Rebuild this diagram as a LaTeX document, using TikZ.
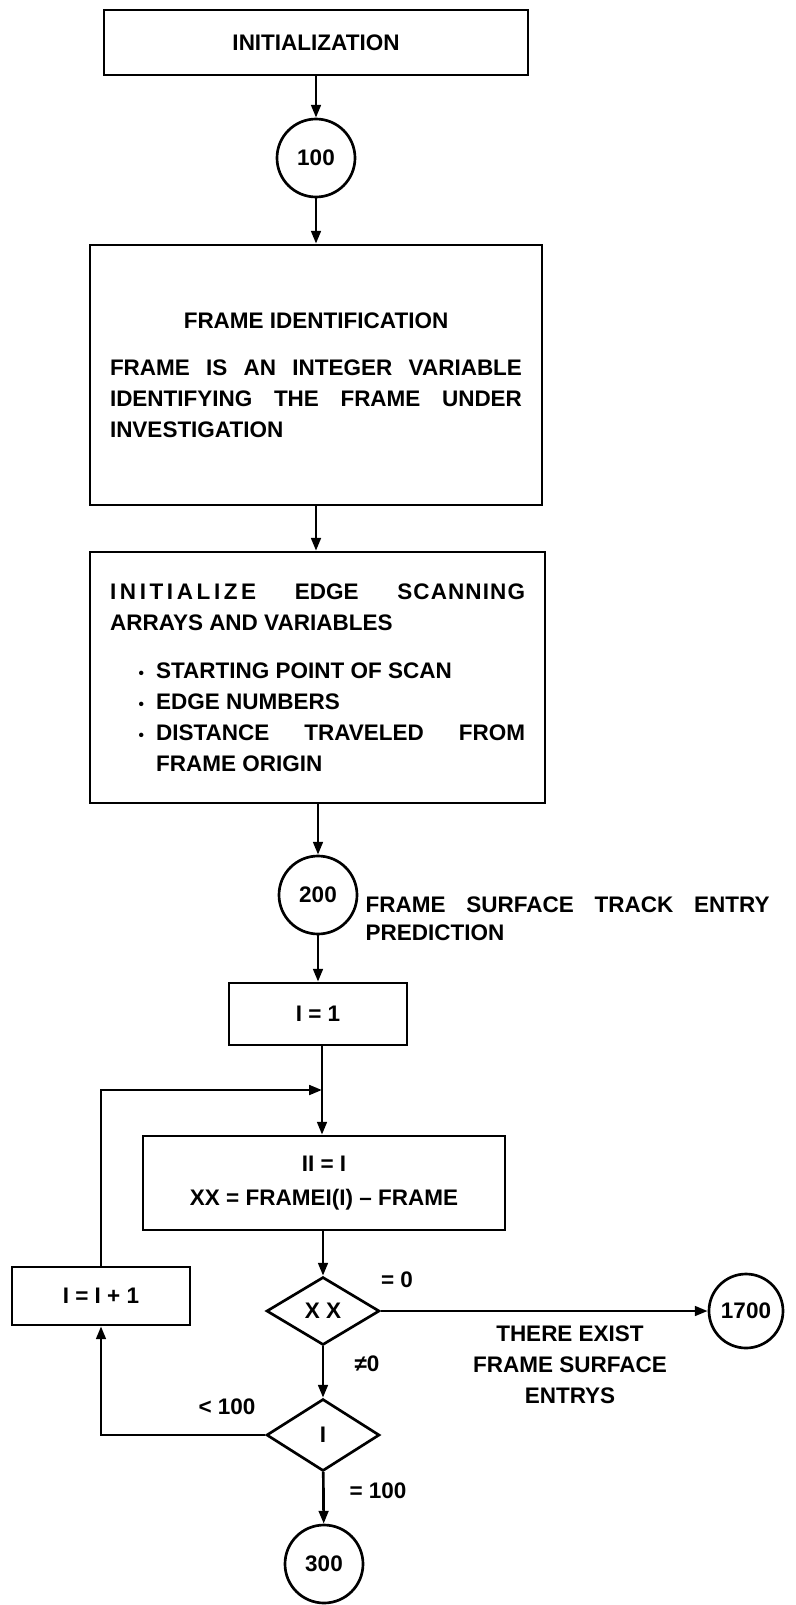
\documentclass[tikz,border=0pt]{standalone}
\usepackage{fontspec}
\setmainfont{Liberation Sans}
\usetikzlibrary{shapes.geometric,arrows.meta}

\newcommand{\chartfont}{\fontsize{16}{22}\selectfont\bfseries}
\newcommand{\dotitem}{\par\leavevmode\llap{{\fontsize{11}{11}\selectfont\textbullet}\hspace{0.3cm}}}
\newcommand{\spaced}[2]{{\addfontfeature{LetterSpace=#1}#2}}

\tikzset{
    procbox/.style={draw, line width=1.9pt, font=\chartfont, inner sep=0pt},
    connector/.style={draw, circle, line width=1.9pt, font=\chartfont, inner sep=0pt},
    decision/.style={draw, diamond, aspect=1.66, line width=1.9pt, font=\chartfont, inner sep=0pt},
    flowline/.style={line width=1.9pt, -{Triangle[length=0.32cm, width=0.24cm]}},
    note/.style={font=\chartfont, inner sep=0pt},
}

\begin{document}
\begin{tikzpicture}
    \useasboundingbox (0,0) rectangle (19.9,-40.125);

    % 初始化
    \node[procbox, minimum width=10.6cm, minimum height=1.625cm] (init) at (7.9,-1.06) {INITIALIZATION};

    % 100
    \node[connector, minimum size=1.95cm] (c100) at (7.9,-3.95) {100};
    \draw[flowline] (init) -- (c100);

    % 帧识别
    \node[procbox, minimum width=11.3cm, minimum height=6.5cm, text width=10.3cm, align=justify] (frameid) at (7.9,-9.375) {
        {\centering FRAME IDENTIFICATION\par}
        \vspace{0.4cm}
        FRAME IS AN INTEGER VARIABLE\linebreak
        IDENTIFYING THE FRAME UNDER\linebreak
        INVESTIGATION};
    \draw[flowline] (c100) -- (frameid);

    % 边扫描数组
    \node[procbox, minimum width=11.375cm, minimum height=6.275cm, text width=10.375cm, align=justify] (initarr) at (7.94,-16.94) {
        \spaced{16}{INITIALIZE} EDGE \spaced{5}{SCANNING}\linebreak
        ARRAYS AND VARIABLES\par
        \vspace{0.42cm}
        \leftskip=1.15cm
        \dotitem STARTING POINT OF SCAN
        \dotitem EDGE NUMBERS
        \dotitem DISTANCE TRAVELED FROM\linebreak
        FRAME ORIGIN\par};
    \draw[flowline] (frameid) -- (frameid |- initarr.north);

    % 200
    \node[connector, minimum size=1.95cm] (c200) at (7.95,-22.375) {200};
    \draw[flowline] (initarr.south -| c200) -- (c200);
    \node[note, font=\fontsize{16}{20}\selectfont\bfseries, text width=10.1cm, align=justify] (predict) at (14.19,-22.975) {FRAME SURFACE TRACK ENTRY\linebreak PREDICTION};

    % I = 1
    \node[procbox, minimum width=4.45cm, minimum height=1.55cm] (i1) at (7.95,-25.35) {I = 1};
    \draw[flowline] (c200) -- (i1);

    % 循环入口
    \coordinate (junc) at (8.05,-27.25);

    % II = I
    \node[procbox, minimum width=9.05cm, minimum height=2.35cm, align=center] (ii) at (8.1,-29.575) {II = I\\[0.08cm] XX = FRAMEI(I) – FRAME};
    \draw[flowline] (i1.south -| junc) -- (junc |- ii.north);

    % XX 判断
    \node[decision, minimum width=2.825cm, minimum height=1.7cm] (xx) at (8.075,-32.775) {X X};
    \draw[flowline] (ii.south -| xx) -- (xx);
    \node[note] (eq0) at (9.925,-32.0) {= 0};

    % 1700
    \node[connector, minimum size=1.85cm] (c1700) at (18.65,-32.775) {1700};
    \draw[flowline] (xx) -- (c1700);
    \node[note, align=center] (exist) at (14.25,-34.125) {THERE EXIST\\ FRAME SURFACE\\ ENTRYS};
    \node[note] (ne0) at (9.175,-34.1) {≠0};

    % I 判断
    \node[decision, minimum width=2.825cm, minimum height=1.8cm] (idia) at (8.075,-35.875) {I};
    \draw[flowline] (xx) -- (idia);
    \node[note] (lt100) at (5.675,-35.175) {< 100};
    \node[note] (eq100) at (9.45,-37.275) {= 100};

    % I = I + 1
    \node[procbox, minimum width=4.45cm, minimum height=1.45cm] (iinc) at (2.525,-32.4) {I = I + 1};
    \draw[flowline] (idia.west) -| (iinc.south);
    \draw[flowline] (iinc.north) |- (junc);

    % 300
    \node[connector, minimum size=1.95cm] (c300) at (8.1,-39.1) {300};
    \draw[flowline] (idia) -- (c300);
\end{tikzpicture}
\end{document}
